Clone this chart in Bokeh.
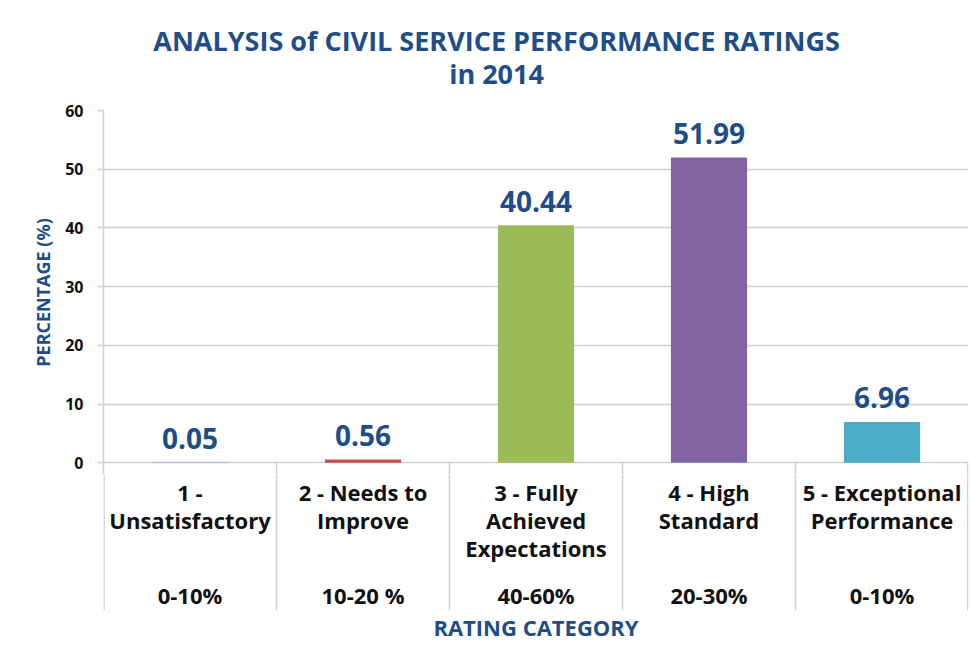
from bokeh.plotting import figure
from bokeh.models import Range1d, FixedTicker, ColumnDataSource
from bokeh.layouts import column
from bokeh.core.properties import value
from bokeh.embed import file_html
from bokeh.resources import INLINE

# ---- data ----
categories = ["1 -\nUnsatisfactory", "2 - Needs to\nImprove", "3 - Fully\nAchieved\nExpectations",
              "4 - High\nStandard", "5 - Exceptional\nPerformance"]
ranges = ["0-10%", "10-20 %", "40-60%", "20-30%", "0-10%"]
values = [0.05, 0.56, 40.44, 51.99, 6.96]
value_labels = ["0.05", "0.56", "40.44", "51.99", "6.96"]
colors = ["#4F81BD", "#C0504D", "#9BBB59", "#8064A2", "#4BACC6"]
y_ticks = [0, 10, 20, 30, 40, 50, 60]
title_lines = ["ANALYSIS of CIVIL SERVICE PERFORMANCE RATINGS", "in 2014"]

FONT = "Open Sans"
BLUE = "#1F4E86"
GRAY = "#D0D0D0"
INK = "#111111"

n = len(categories)
xc = [i + 0.5 for i in range(n)]
xr = Range1d(0, n)
y_split = -2.0

# ---------------- title strip ----------------
t = figure(width=970, height=100, output_backend="svg", toolbar_location=None,
           x_range=xr, y_range=Range1d(100, 0), x_axis_location=None, y_axis_location=None,
           min_border_left=103, min_border_right=2, min_border_top=0, min_border_bottom=0)
t.outline_line_color = None
t.grid.visible = False
t.text(x=[2.272] * len(title_lines), y=[40, 73], text=title_lines, text_align="center",
       text_baseline="middle", text_font=value(FONT), text_font_style="bold",
       text_font_size="27px", text_color=BLUE)

# ---------------- bar figure ----------------
p = figure(width=970, height=374, output_backend="svg", toolbar_location=None,
           x_range=xr, y_range=Range1d(y_split, 60),
           x_axis_location=None, min_border_left=103, min_border_right=2,
           min_border_top=10, min_border_bottom=0)
p.outline_line_color = None
p.xgrid.visible = False
p.ygrid.grid_line_color = GRAY
p.ygrid.grid_line_width = 1.5

ax = p.yaxis[0]
ax.ticker = FixedTicker(ticks=y_ticks)
ax.axis_line_color = GRAY
ax.axis_line_width = 1.5
ax.major_tick_line_color = GRAY
ax.major_tick_line_width = 1.5
ax.major_tick_out = 6
ax.major_tick_in = 0
ax.minor_tick_line_color = None
ax.major_label_text_font = FONT
ax.major_label_text_font_style = "bold"
ax.major_label_text_font_size = "16px"
ax.major_label_text_color = INK
ax.major_label_standoff = 14
ax.axis_label = "PERCENTAGE (%)"
ax.axis_label_text_font = FONT
ax.axis_label_text_font_style = "bold"
ax.axis_label_text_font_size = "18px"
ax.axis_label_text_color = BLUE
ax.axis_label_standoff = 7

src = ColumnDataSource(dict(x=xc, top=values, color=colors, lab=value_labels))
p.vbar(x="x", top="top", bottom=0, width=0.44, fill_color="color", line_color=None, source=src)
p.text(x="x", y="top", text="lab", source=src, text_align="center", text_baseline="middle",
       y_offset=-24, text_font=value(FONT), text_font_style="bold", text_font_size="28px",
       text_color=BLUE)

div_x = [float(i) for i in range(1, n)] + [n - 0.004]
p.segment(x0=div_x, y0=[0] * len(div_x), x1=div_x, y1=[y_split] * len(div_x),
          line_color=GRAY, line_width=1.5)

# ---------------- category label strip ----------------
y_bottom = -25.16
q = figure(width=970, height=177, output_backend="svg", toolbar_location=None,
           x_range=xr, y_range=Range1d(y_bottom, y_split),
           y_axis_location=None, min_border_left=103, min_border_right=2,
           min_border_top=0, min_border_bottom=41)
q.outline_line_color = None
q.grid.visible = False
xa = q.xaxis[0]
xa.ticker = FixedTicker(ticks=[])
xa.axis_line_color = None
xa.major_tick_line_color = None
xa.minor_tick_line_color = None
xa.major_label_text_font_size = "0px"
xa.axis_label = "RATING CATEGORY"
xa.axis_label_text_font = FONT
xa.axis_label_text_font_style = "bold"
xa.axis_label_text_font_size = "22px"
xa.axis_label_text_color = BLUE
xa.axis_label_standoff = 1

div_x2 = [0.003] + div_x
q.segment(x0=div_x2, y0=[y_split] * len(div_x2), x1=div_x2, y1=[y_bottom] * len(div_x2),
          line_color=GRAY, line_width=1.5)

lx, ly, lt = [], [], []
for i, c in enumerate(categories):
    for j, line in enumerate(c.split("\n")):
        lx.append(xc[i]); ly.append(-4.9 - j * 4.78); lt.append(line)
q.text(x=lx, y=ly, text=lt, text_align="center", text_baseline="middle",
       text_font=value(FONT), text_font_style="bold", text_font_size="22px", text_color=INK)
q.text(x=xc, y=[-22.6] * n, text=ranges, text_align="center", text_baseline="middle",
       text_font=value(FONT), text_font_style="bold", text_font_size="22px", text_color=INK)

layout = column(t, p, q, spacing=0)
open("out.html", "w").write(file_html(layout, INLINE))
